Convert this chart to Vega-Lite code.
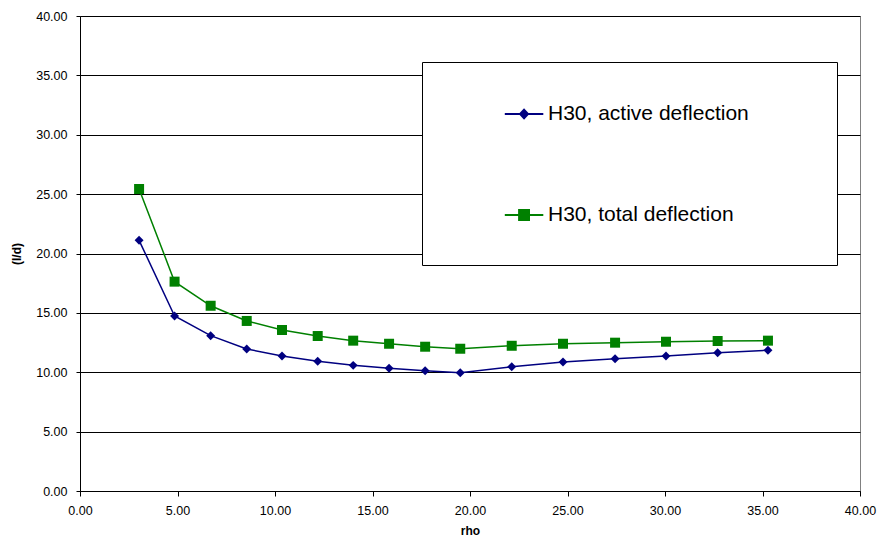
{
  "$schema": "https://vega.github.io/schema/vega-lite/v6.json",
  "width": 780,
  "height": 475,
  "autosize": {"type": "none"},
  "padding": {"left": 80, "top": 16, "right": 20, "bottom": 54},
  "background": "white",
  "config": {"view": {"stroke": "#808080", "strokeWidth": 1}, "font": "Liberation Sans"},
  "data": {"values": [
    {"rho": 3.03, "value": 21.11, "series": "H30, active deflection"},
    {"rho": 4.85, "value": 14.74, "series": "H30, active deflection"},
    {"rho": 6.70, "value": 13.08, "series": "H30, active deflection"},
    {"rho": 8.55, "value": 11.96, "series": "H30, active deflection"},
    {"rho": 10.36, "value": 11.37, "series": "H30, active deflection"},
    {"rho": 12.19, "value": 10.93, "series": "H30, active deflection"},
    {"rho": 14.01, "value": 10.58, "series": "H30, active deflection"},
    {"rho": 15.85, "value": 10.33, "series": "H30, active deflection"},
    {"rho": 17.70, "value": 10.13, "series": "H30, active deflection"},
    {"rho": 19.50, "value": 9.96, "series": "H30, active deflection"},
    {"rho": 22.14, "value": 10.46, "series": "H30, active deflection"},
    {"rho": 24.77, "value": 10.86, "series": "H30, active deflection"},
    {"rho": 27.44, "value": 11.14, "series": "H30, active deflection"},
    {"rho": 30.05, "value": 11.37, "series": "H30, active deflection"},
    {"rho": 32.70, "value": 11.65, "series": "H30, active deflection"},
    {"rho": 35.28, "value": 11.85, "series": "H30, active deflection"},
    {"rho": 3.03, "value": 25.43, "series": "H30, total deflection"},
    {"rho": 4.85, "value": 17.63, "series": "H30, total deflection"},
    {"rho": 6.70, "value": 15.60, "series": "H30, total deflection"},
    {"rho": 8.55, "value": 14.32, "series": "H30, total deflection"},
    {"rho": 10.36, "value": 13.56, "series": "H30, total deflection"},
    {"rho": 12.19, "value": 13.05, "series": "H30, total deflection"},
    {"rho": 14.01, "value": 12.66, "series": "H30, total deflection"},
    {"rho": 15.85, "value": 12.40, "series": "H30, total deflection"},
    {"rho": 17.70, "value": 12.15, "series": "H30, total deflection"},
    {"rho": 19.50, "value": 11.98, "series": "H30, total deflection"},
    {"rho": 22.14, "value": 12.23, "series": "H30, total deflection"},
    {"rho": 24.77, "value": 12.40, "series": "H30, total deflection"},
    {"rho": 27.44, "value": 12.49, "series": "H30, total deflection"},
    {"rho": 30.05, "value": 12.57, "series": "H30, total deflection"},
    {"rho": 32.70, "value": 12.63, "series": "H30, total deflection"},
    {"rho": 35.28, "value": 12.66, "series": "H30, total deflection"}
  ]},
  "encoding": {
    "x": {
      "field": "rho", "type": "quantitative",
      "scale": {"domain": [0, 40], "nice": false, "zero": false},
      "axis": {
        "title": "rho", "format": ".2f", "values": [0, 5, 10, 15, 20, 25, 30, 35, 40],
        "grid": false, "domainColor": "black", "tickColor": "black", "tickSize": 5,
        "labelFont": "Liberation Sans", "labelFontSize": 12.5, "labelColor": "black",
        "labelPadding": 8, "labelFlush": false,
        "titleFont": "Liberation Sans", "titleFontSize": 12, "titleFontWeight": "bold", "titleColor": "black", "titlePadding": 9
      }
    },
    "y": {
      "field": "value", "type": "quantitative",
      "scale": {"domain": [0, 40], "nice": false},
      "axis": {
        "title": "(l/d)", "format": ".2f", "values": [0, 5, 10, 15, 20, 25, 30, 35, 40],
        "grid": true, "gridColor": "black", "gridOpacity": 1, "gridWidth": 1,
        "domainColor": "black", "tickColor": "black", "tickSize": 4,
        "labelFont": "Liberation Sans", "labelFontSize": 12.5, "labelColor": "black",
        "labelPadding": 9, "labelFlush": false,
        "titleFont": "Liberation Sans", "titleFontSize": 12, "titleFontWeight": "bold", "titleColor": "black", "titlePadding": 12
      }
    }
  },
  "layer": [
    {
      "mark": {"type": "line", "strokeWidth": 1.5},
      "encoding": {
        "color": {
          "field": "series", "type": "nominal",
          "scale": {"domain": ["H30, active deflection", "H30, total deflection"], "range": ["#000080", "#008000"]},
          "legend": {
            "title": null, "orient": "none", "legendX": 342, "legendY": 46,
            "direction": "vertical",
            "strokeColor": "black", "fillColor": "white", "padding": 40,
            "labelFont": "Liberation Sans", "labelFontSize": 21, "labelColor": "black",
            "labelLimit": 600,
            "labelOffset": 62, "symbolSize": 484, "rowPadding": 79,
            "encode": {
              "symbols": {
                "update": {
                  "shape": {"signal": "datum.value === 'H30, active deflection' ? 'M2.8,0H6.3M4.19,0L4.55,-0.38L4.91,0L4.55,0.38ZM29,0' : 'M2.8,0H6.3M4.1,-0.45H5V0.45H4.1ZM29,0'"},
                  "fill": {"scale": "color", "field": "value"},
                  "stroke": {"scale": "color", "field": "value"},
                  "strokeWidth": {"value": 2},
                  "opacity": {"value": 1}
                }
              }
            }
          }
        }
      }
    },
    {
      "transform": [{"filter": "datum.series === 'H30, active deflection'"}],
      "mark": {"type": "point", "shape": "diamond", "filled": true, "size": 80, "color": "#000080", "opacity": 1}
    },
    {
      "transform": [{"filter": "datum.series === 'H30, total deflection'"}],
      "mark": {"type": "point", "shape": "square", "filled": true, "size": 100, "color": "#008000", "opacity": 1}
    }
  ]
}
